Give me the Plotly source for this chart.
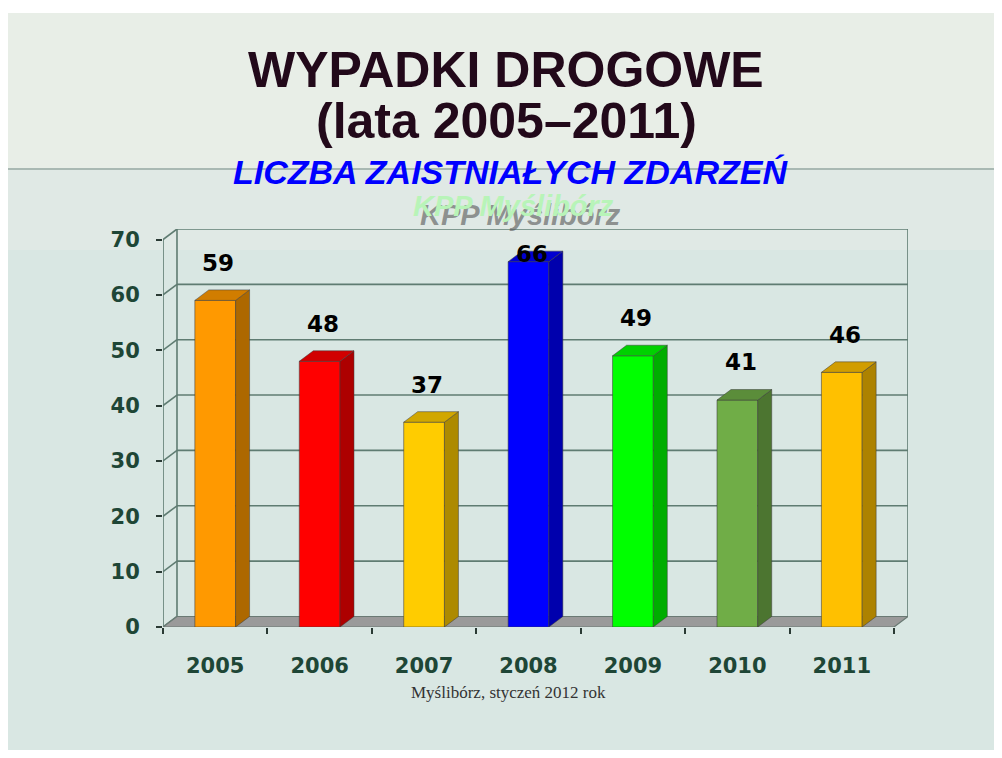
import plotly.graph_objects as go

# ---- data ----
years = ["2005", "2006", "2007", "2008", "2009", "2010", "2011"]
values = [59, 48, 37, 66, 49, 41, 46]
front_colors = ["#ff9900", "#ff0000", "#ffcc00", "#0000ff", "#00ff00", "#70ad47", "#ffc000"]
y_ticks = [0, 10, 20, 30, 40, 50, 60, 70]

# ---- geometry (3D look) ----
DX = 0.134   # depth offset along x (category units)
DY = 1.9     # depth offset along y (value units)
W = 0.39     # bar width
YMAX = 70

BODY = 8                      # default page margin around the figure
W_PX, H_PX = 986, 742         # figure size (fits the window with body margin)
ML, MR, MT, MB = 155, 86, 221, 123
PW = W_PX - ML - MR
PH = H_PX - MT - MB


def px_x(px):
    """page pixel x -> paper x"""
    return (px - BODY - ML) / PW


def px_y(py):
    """page pixel y -> paper y"""
    return (H_PX - MB - (py - BODY)) / PH


def shade(hexc, f):
    hexc = hexc.lstrip("#")
    r, g, b = (int(hexc[i:i + 2], 16) for i in (0, 2, 4))
    return "rgb(%d,%d,%d)" % (int(r * f), int(g * f), int(b * f))


n = len(years)
xs = list(range(n))
x0, x1 = -0.5, n - 0.5

fig = go.Figure()

# bar front faces
fig.add_trace(go.Bar(
    x=xs, y=values, width=W,
    marker=dict(color=front_colors, line=dict(color="rgba(60,60,60,0.55)", width=1)),
    hoverinfo="skip", showlegend=False,
))

# bar side and top faces
for i, v in enumerate(values):
    r = i + W / 2
    l = i - W / 2
    fig.add_trace(go.Scatter(
        x=[r, r + DX, r + DX, r, r], y=[0, DY, v + DY, v, 0],
        fill="toself", fillcolor=shade(front_colors[i], 0.68), mode="lines",
        line=dict(color="rgba(60,60,60,0.5)", width=1), hoverinfo="skip", showlegend=False,
    ))
    fig.add_trace(go.Scatter(
        x=[l, r, r + DX, l + DX, l], y=[v, v, v + DY, v + DY, v],
        fill="toself", fillcolor=shade(front_colors[i], 0.82), mode="lines",
        line=dict(color="rgba(60,60,60,0.5)", width=1), hoverinfo="skip", showlegend=False,
    ))

shapes = []
# slide background pieces
shapes.append(dict(type="rect", xref="paper", yref="paper", layer="below",
                   x0=px_x(0), x1=px_x(1010), y0=px_y(13), y1=px_y(0),
                   fillcolor="#ffffff", line=dict(width=0)))
shapes.append(dict(type="rect", xref="paper", yref="paper", layer="below",
                   x0=px_x(8), x1=px_x(1010), y0=px_y(169), y1=px_y(13),
                   fillcolor="#e8eee7", line=dict(width=0)))
shapes.append(dict(type="rect", xref="paper", yref="paper", layer="below",
                   x0=px_x(8), x1=px_x(1010), y0=px_y(250), y1=px_y(169),
                   fillcolor="#e0e9e5", line=dict(width=0)))
shapes.append(dict(type="line", xref="paper", yref="paper", layer="below",
                   x0=px_x(8), x1=px_x(1010), y0=px_y(169), y1=px_y(169),
                   line=dict(color="#a9b9b3", width=2)))

wall_col = "#5f7c72"
# back wall gridlines + left wall diagonals
for v in y_ticks:
    if v > 0:
        shapes.append(dict(type="line", layer="below", x0=x0 + DX, x1=x1 + DX, y0=v + DY, y1=v + DY,
                           line=dict(color=wall_col, width=1.6)))
    shapes.append(dict(type="line", layer="below", x0=x0, x1=x0 + DX, y0=v, y1=v + DY,
                       line=dict(color=wall_col, width=1.6)))
# wall edges
shapes.append(dict(type="line", layer="below", x0=x0, x1=x0, y0=0, y1=YMAX,
                   line=dict(color=wall_col, width=1.6)))
shapes.append(dict(type="line", layer="below", x0=x0 + DX, x1=x0 + DX, y0=DY, y1=YMAX + DY,
                   line=dict(color=wall_col, width=1.6)))
shapes.append(dict(type="line", layer="below", x0=x1 + DX, x1=x1 + DX, y0=DY, y1=YMAX + DY,
                   line=dict(color=wall_col, width=1.6)))
# floor
shapes.append(dict(type="path", layer="below",
                   path="M %f,0 L %f,0 L %f,%f L %f,%f Z" % (x0, x1, x1 + DX, DY, x0 + DX, DY),
                   fillcolor="#9a9a9a", line=dict(color="#6a7a74", width=1.2)))

title_col = "#22091a"
annotations = [
    dict(xref="paper", yref="paper", x=px_x(506), y=px_y(70), text="WYPADKI DROGOWE", showarrow=False,
         font=dict(family="Liberation Sans", size=50, color=title_col, weight="bold"),
         xanchor="center", yanchor="middle"),
    dict(xref="paper", yref="paper", x=px_x(506), y=px_y(121), text="(lata 2005–2011)", showarrow=False,
         font=dict(family="Liberation Sans", size=50, color=title_col, weight="bold"),
         xanchor="center", yanchor="middle"),
    dict(xref="paper", yref="paper", x=px_x(510), y=px_y(172), text="<i>LICZBA ZAISTNIAŁYCH ZDARZEŃ</i>",
         showarrow=False, font=dict(family="Liberation Sans", size=34, color="#0000ff", weight="bold"),
         xanchor="center", yanchor="middle"),
    # drop shadow first, light green subtitle drawn on top of it
    dict(xref="paper", yref="paper", x=px_x(520), y=px_y(215), text="<i>KPP Myślibórz</i>",
         showarrow=False, font=dict(family="Liberation Sans", size=29, color="rgba(85,85,85,0.6)", weight="bold"),
         xanchor="center", yanchor="middle"),
    dict(xref="paper", yref="paper", x=px_x(513), y=px_y(206), text="<i>KPP Myślibórz</i>",
         showarrow=False, font=dict(family="Liberation Sans", size=29, color="#b8f4b8", weight="bold"),
         xanchor="center", yanchor="middle"),
    dict(xref="paper", yref="paper", x=px_x(508), y=px_y(692), text="Myślibórz, styczeń 2012 rok",
         showarrow=False, font=dict(family="Liberation Serif", size=17, color="#333333"),
         xanchor="center", yanchor="middle"),
]
# value labels (drawn last so "66" sits on top of the subtitle shadow)
for i, v in enumerate(values):
    annotations.append(dict(x=i + 0.03, y=min(v + 6.8, 67.3), text=str(v), showarrow=False,
                            font=dict(family="DejaVu Sans", size=23, color="#000000", weight="bold"),
                            xanchor="center", yanchor="middle"))

axis_font = dict(family="DejaVu Sans", size=21, color="#1e4636", weight="bold")

fig.update_layout(
    width=W_PX, height=H_PX,
    margin=dict(l=ML, r=MR, t=MT, b=MB),
    paper_bgcolor="#d9e7e3", plot_bgcolor="rgba(0,0,0,0)",
    shapes=shapes, annotations=annotations, showlegend=False,
    xaxis=dict(range=[x0, x1 + DX], tickmode="array", tickvals=xs, ticktext=years,
               ticks="", showgrid=False, zeroline=False, showline=False,
               tickfont=axis_font, ticklabelstandoff=24,
               minor=dict(tickmode="array", tickvals=[k - 0.5 for k in range(n + 1)],
                          ticks="outside", ticklen=6, tickwidth=1.5, tickcolor="#2a3a34",
                          showgrid=False)),
    yaxis=dict(range=[0, YMAX + DY], tickmode="array", tickvals=y_ticks,
               ticks="outside", ticklen=6, tickwidth=1.5, tickcolor="#2a3a34",
               showgrid=False, zeroline=False, showline=False,
               tickfont=axis_font, ticklabelstandoff=12),
)

fig.write_html("out.html")
